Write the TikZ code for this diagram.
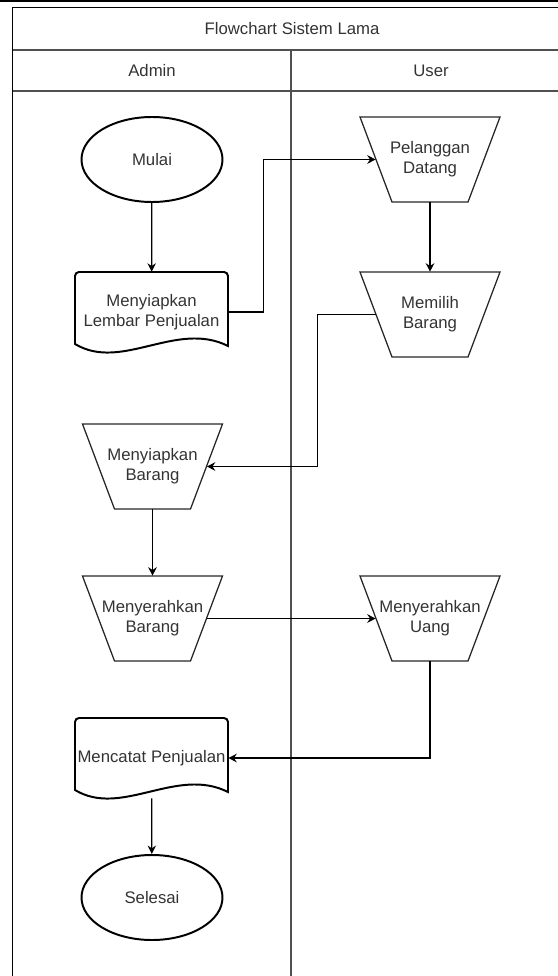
\documentclass[tikz,border=0pt]{standalone}
\usepackage{fontspec}
\setmainfont{Liberation Sans}
\usetikzlibrary{positioning,calc,arrows.meta,shapes.geometric}
\definecolor{textgray}{HTML}{333333}
\definecolor{lanegray}{HTML}{505050}

\begin{document}
\begin{tikzpicture}[
    term/.style={draw, ellipse, minimum width=3.525cm, minimum height=2.125cm, line width=1.4pt, text=textgray},
    manual/.style={rectangle, minimum width=3.5cm, minimum height=2.125cm, inner sep=0pt, align=center, text=textgray},
    manualline/.style={draw=black!85, line width=0.9pt},
    doc/.style={rectangle, minimum width=3.825cm, minimum height=2cm, inner sep=0pt, align=center, text=textgray},
    docline/.style={draw, line width=1.4pt},
    arrow/.style={-{Stealth[length=6pt,width=6pt]}, line width=0.9pt},
    label/.style={text=textgray},
    lane/.style={draw=lanegray, line width=1pt},
    font=\fontsize{11.9}{14.1}\selectfont
]
\useasboundingbox (0,0) rectangle (13.95,-24.4);

% Swimlane frame
\draw[line width=1.4pt] (0,-0.03) -- (13.95,-0.03);
\draw[lane, draw=black, line width=1.3pt] (0.3125,-24.4) -- (0.3125,-0.1875) -- (13.95,-0.1875);
\draw[lane] (0.3125,-1.25) -- (13.95,-1.25);
\draw[lane] (0.3125,-2.275) -- (13.95,-2.275);
\draw[lane] (7.275,-1.25) -- (7.275,-24.4);

% Headers
\node[label] (title) at (7.3, -0.725) {Flowchart Sistem Lama};
\node[label] (admin) at (3.8, -1.7625) {Admin};
\node[label] (user) at (10.775, -1.7625) {User};

% Admin lane
\node[term] (start) at (3.8, -3.9875) {Mulai};
\node[doc] (lembar) at (3.7875, -7.8) {Menyiapkan\\Lembar Penjualan};
\node[manual] (siapbrg) at (3.8125, -11.6625) {Menyiapkan\\Barang};
\node[manual] (serahbrg) at (3.8125, -15.4625) {Menyerahkan\\Barang};
\node[doc] (catat) at (3.7875, -18.95) {Mencatat Penjualan};
\node[term] (stop) at (3.8, -22.4375) {Selesai};

% User lane
\node[manual] (datang) at (10.75, -3.9875) {Pelanggan\\Datang};
\node[manual] (pilih) at (10.75, -7.8625) {Memilih\\Barang};
\node[manual] (uang) at (10.75, -15.4625) {Menyerahkan\\Uang};

% Document outlines
\foreach \n in {lembar,catat}
    \draw[docline, shift={(\n.center)}] (-1.9125,-0.8) -- (-1.9125,0.9)
        arc[start angle=180, end angle=90, radius=0.1] -- (1.8125,1)
        arc[start angle=90, end angle=0, radius=0.1] -- (1.9125,-0.85)
        .. controls (0.625,-0.2) and (-0.75,-1.5) .. (-1.9125,-0.8) -- cycle;

% Manual operation outlines
\foreach \n in {datang,pilih,siapbrg,serahbrg,uang}
    \draw[manualline, shift={(\n.center)}] (-1.75,1.0625) -- (1.75,1.0625)
        -- (0.95,-1.0625) -- (-0.95,-1.0625) -- cycle;

% Arrows
\draw[arrow] (start) -- (lembar);
\draw[arrow] (lembar.east) -- ++(0.875,0) |- ($(datang.west)+(0.4,0)$);
\draw[arrow] (datang) -- (pilih);
\draw[arrow] ($(pilih.west)+(0.4,0)$) -- ++(-1.45,0) |- ($(siapbrg.east)+(-0.4,0)$);
\draw[arrow] (siapbrg) -- (serahbrg);
\draw[arrow] ($(serahbrg.east)+(-0.4,0)$) -- ($(uang.west)+(0.4,0)$);
\draw[arrow] (uang.south) |- (catat.east);
\draw[arrow] (catat) -- (stop);

\end{tikzpicture}
\end{document}
